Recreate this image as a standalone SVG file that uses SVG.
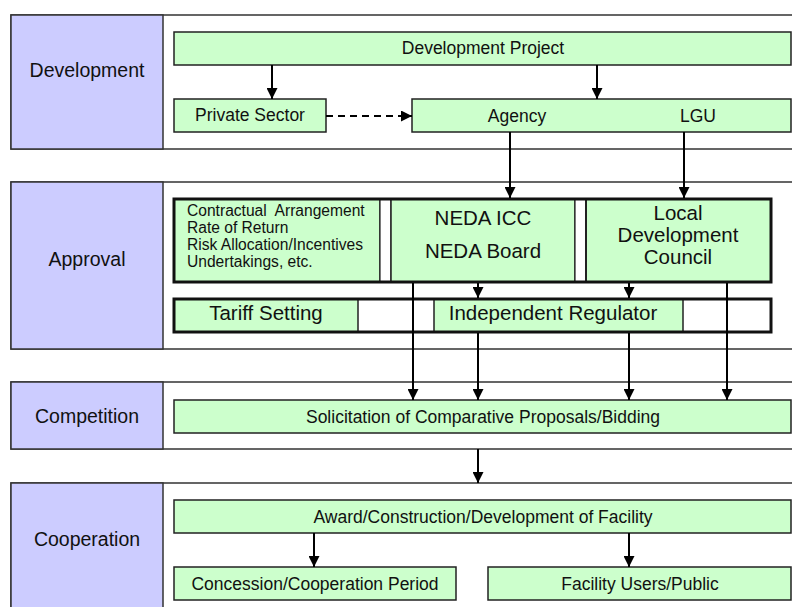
<svg xmlns="http://www.w3.org/2000/svg" width="792" height="607" viewBox="0 0 792 607">
<style>
.band{fill:#fff;stroke:#333;stroke-width:1.5}
.lab{fill:#ccccff;stroke:#333;stroke-width:1.5}
.box{fill:#ccffcc;stroke:#222;stroke-width:1.5}
.thick{fill:none;stroke:#111;stroke-width:3}
.wht{fill:#fff;stroke:#222;stroke-width:1.2}
text{font-family:"Liberation Sans",Arial,sans-serif;fill:#111;text-anchor:middle}
.lt{font-size:19.5px}
.t{font-size:17.5px}
.big{font-size:20.5px}
.sm{font-size:15.6px;text-anchor:start;white-space:pre}
.ar{stroke:#000;stroke-width:2;fill:none}
</style>
<defs>
<marker id="ah" markerWidth="11" markerHeight="11" refX="11" refY="5.5" orient="auto" markerUnits="userSpaceOnUse">
<path d="M0,0 L11,5.5 L0,11 Z" fill="#000"/>
</marker>
</defs>

<g id="bands">
<rect class="band" x="11" y="15" width="800" height="134"/>
<rect class="lab" x="11" y="15" width="152" height="134"/>
<text class="lt" x="87" y="77">Development</text>
<rect class="band" x="11" y="182" width="800" height="167"/>
<rect class="lab" x="11" y="182" width="152" height="167"/>
<text class="lt" x="87" y="266">Approval</text>
<rect class="band" x="11" y="382" width="800" height="67"/>
<rect class="lab" x="11" y="382" width="152" height="67"/>
<text class="lt" x="87" y="423">Competition</text>
<rect class="band" x="11" y="483" width="800" height="140"/>
<rect class="lab" x="11" y="483" width="152" height="140"/>
<text class="lt" x="87" y="546">Cooperation</text>
</g>

<g id="dev-project">
<rect class="box" x="174" y="32" width="617" height="33"/>
<text class="t" x="483" y="54">Development Project</text>
</g>
<g id="private-sector">
<rect class="box" x="174" y="99" width="152" height="33"/>
<text class="t" x="250" y="121">Private Sector</text>
</g>
<g id="agency-lgu">
<rect class="box" x="412" y="99" width="379" height="33"/>
<text class="t" x="517" y="121.5">Agency</text>
<text class="t" x="698" y="121.5">LGU</text>
</g>

<g id="approval-block">
<rect class="box" x="174" y="199" width="206" height="83" stroke="none"/>
<rect class="wht" x="380" y="199" width="11" height="83"/>
<rect class="box" x="391" y="199" width="184" height="83"/>
<rect class="wht" x="575" y="199" width="11" height="83"/>
<rect class="box" x="586" y="199" width="185" height="83" style="stroke-width:2"/>
<rect class="thick" x="174" y="199" width="597" height="83"/>
</g>
<g id="criteria">
<text class="sm" x="187" y="215.7">Contractual  Arrangement</text>
<text class="sm" x="187" y="232.7">Rate of Return</text>
<text class="sm" x="187" y="249.5">Risk Allocation/Incentives</text>
<text class="sm" x="187" y="266.5">Undertakings, etc.</text>
</g>
<g id="neda">
<text class="big" x="483" y="225">NEDA ICC</text>
<text class="big" x="483" y="258">NEDA Board</text>
</g>
<g id="ldc">
<text class="big" x="678" y="219.5">Local</text>
<text class="big" x="678" y="241.5">Development</text>
<text class="big" x="678" y="264">Council</text>
</g>

<g id="tariff-row">
<rect x="174" y="299" width="597" height="33" fill="#fff"/>
<rect class="box" x="174" y="299" width="184" height="33"/>
<rect class="box" x="434" y="299" width="249" height="33"/>
<rect class="thick" x="174" y="299" width="597" height="33"/>
</g>
<g id="tariff-setting">
<text class="big" x="266" y="320">Tariff Setting</text>
</g>
<g id="independent-regulator">
<text class="big" x="553" y="320">Independent Regulator</text>
</g>

<g id="solicitation">
<rect class="box" x="174" y="400" width="617" height="33"/>
<text class="t" x="483" y="423">Solicitation of Comparative Proposals/Bidding</text>
</g>

<g id="award">
<rect class="box" x="174" y="500" width="617" height="33"/>
<text class="t" x="483" y="522.5">Award/Construction/Development of Facility</text>
</g>
<g id="concession">
<rect class="box" x="174" y="567" width="282" height="33"/>
<text class="t" x="315" y="589.5">Concession/Cooperation Period</text>
</g>
<g id="users">
<rect class="box" x="488" y="567" width="303" height="33"/>
<text class="t" x="640" y="589.5">Facility Users/Public</text>
</g>

<g id="connectors">
<line class="ar" x1="272" y1="65" x2="272" y2="99" marker-end="url(#ah)"/>
<line class="ar" x1="597" y1="65" x2="597" y2="99" marker-end="url(#ah)"/>
<line class="ar" x1="326" y1="116" x2="412" y2="116" stroke-dasharray="7,5" stroke-width="1.6" marker-end="url(#ah)"/>
<line class="ar" x1="510" y1="132" x2="510" y2="198" marker-end="url(#ah)"/>
<line class="ar" x1="684" y1="132" x2="684" y2="198" marker-end="url(#ah)"/>
<line class="ar" x1="478" y1="283" x2="478" y2="298" marker-end="url(#ah)"/>
<line class="ar" x1="629" y1="283" x2="629" y2="298" marker-end="url(#ah)"/>
<line class="ar" x1="413" y1="283" x2="413" y2="400" marker-end="url(#ah)"/>
<line class="ar" x1="727" y1="283" x2="727" y2="400" marker-end="url(#ah)"/>
<line class="ar" x1="478" y1="333" x2="478" y2="400" marker-end="url(#ah)"/>
<line class="ar" x1="629" y1="333" x2="629" y2="400" marker-end="url(#ah)"/>
<line class="ar" x1="478" y1="449" x2="478" y2="483" marker-end="url(#ah)"/>
<line class="ar" x1="314" y1="533" x2="314" y2="567" marker-end="url(#ah)"/>
<line class="ar" x1="629" y1="533" x2="629" y2="567" marker-end="url(#ah)"/>
</g>
</svg>
